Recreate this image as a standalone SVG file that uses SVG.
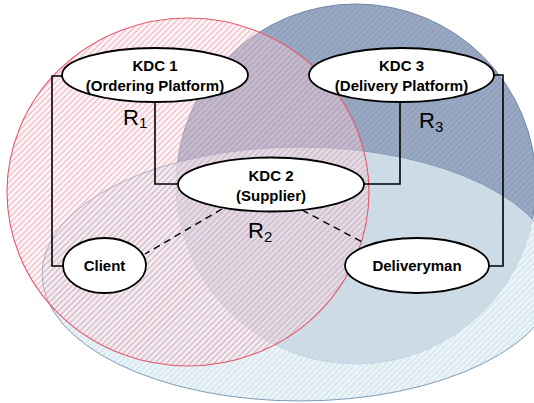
<svg xmlns="http://www.w3.org/2000/svg" width="534" height="403" viewBox="0 0 534 403">
<defs>
<pattern id="hatchRed" patternUnits="userSpaceOnUse" width="4.2" height="4.2" patternTransform="rotate(45)">
<rect x="0" y="0" width="4.2" height="4.2" fill="#f8e4ea" fill-opacity="0.35"/>
<rect x="0" y="0" width="1.6" height="4.2" fill="#e07892" fill-opacity="0.38"/>
</pattern>
<pattern id="hatchDark" patternUnits="userSpaceOnUse" width="4.2" height="4.2" patternTransform="rotate(45)">
<rect x="0" y="0" width="4.2" height="4.2" fill="#9aa9c3"/>
<rect x="0" y="0" width="1.6" height="4.2" fill="#8e9fbb"/>
</pattern>
<pattern id="hatchLight" patternUnits="userSpaceOnUse" width="4.2" height="4.2" patternTransform="rotate(45)">
<rect x="0" y="0" width="4.2" height="4.2" fill="#e3f0f5" fill-opacity="0.7"/>
<rect x="0" y="0" width="1.6" height="4.2" fill="#cfe2ec" fill-opacity="0.7"/>
</pattern>
</defs>
<style>
.node{fill:#ffffff;stroke:#000000;stroke-width:1.8}
.lbl{font-family:"Liberation Sans",Arial,sans-serif;font-weight:bold;font-size:15px;fill:#000;text-anchor:middle}
.conn{fill:none;stroke:#000;stroke-width:1.6}
.dash{fill:none;stroke:#000;stroke-width:1.4;stroke-dasharray:7 5}
.r{font-family:"Liberation Sans",Arial,sans-serif;font-size:22px;fill:#000}
.sub{font-size:15px}
</style>
<g id="regions">
<circle id="R3" cx="356" cy="184" r="180" fill="url(#hatchDark)" stroke="#7487a8" stroke-width="1"/>
<ellipse id="R2" cx="300" cy="274" rx="258" ry="127" fill="url(#hatchLight)" stroke="#7f9cb6" stroke-width="1"/>
<ellipse id="R1" cx="188" cy="192" rx="181" ry="174" fill="url(#hatchRed)" stroke="#e45a6a" stroke-width="1.1"/>
</g>
<g id="connectors">
<path class="conn" d="M62,76 H52 V266 H63"/>
<path class="conn" d="M155,102 V184 H178"/>
<path class="conn" d="M400,102 V184 H364"/>
<path class="conn" d="M494,75 H503 V266 H489"/>
<path class="dash" d="M222,209 L145,254"/>
<path class="dash" d="M302,210 L364,243"/>
</g>
<g id="kdc1">
<ellipse class="node" cx="155" cy="75" rx="93" ry="27"/>
<text class="lbl" x="155" y="71">KDC 1</text>
<text class="lbl" x="155" y="91">(Ordering Platform)</text>
</g>
<g id="kdc3">
<ellipse class="node" cx="401.5" cy="75" rx="92.5" ry="27"/>
<text class="lbl" x="401.5" y="71">KDC 3</text>
<text class="lbl" x="401.5" y="91">(Delivery Platform)</text>
</g>
<g id="kdc2">
<ellipse class="node" cx="271" cy="184.5" rx="93" ry="27"/>
<text class="lbl" x="271" y="181">KDC 2</text>
<text class="lbl" x="271" y="201">(Supplier)</text>
</g>
<g id="client">
<ellipse class="node" cx="104.5" cy="265.5" rx="41.5" ry="27.5"/>
<text class="lbl" x="104.5" y="271">Client</text>
</g>
<g id="deliveryman">
<ellipse class="node" cx="417" cy="265.5" rx="72" ry="27.5"/>
<text class="lbl" x="417" y="271">Deliveryman</text>
</g>
<g id="labels">
<text class="r" x="123" y="125">R<tspan class="sub" dy="3">1</tspan></text>
<text class="r" x="419" y="128">R<tspan class="sub" dy="4">3</tspan></text>
<text class="r" x="248" y="238">R<tspan class="sub" dy="4">2</tspan></text>
</g>
</svg>
